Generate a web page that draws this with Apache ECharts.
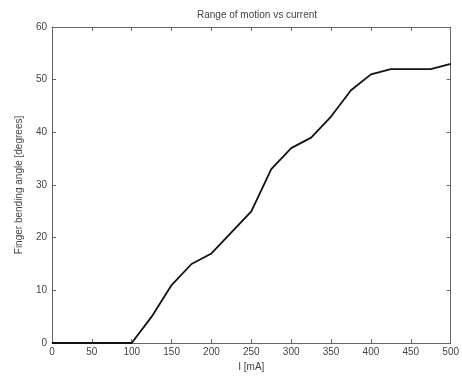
<!DOCTYPE html>
<html>
<head>
<meta charset="utf-8">
<script src="https://cdn.jsdelivr.net/npm/echarts@6/dist/echarts.min.js"></script>
<style>
  html, body { margin: 0; padding: 0; background: #fff; }
  #chart { width: 462px; height: 378px; }
</style>
</head>
<body>
<div id="chart"></div>
<script>
// Current in mA, sampled every 25 mA
const current = [0, 25, 50, 75, 100, 125, 150, 175, 200, 225, 250, 275, 300, 325, 350, 375, 400, 425, 450, 475, 500];
// Finger bending angle in degrees
const angle = [0, 0, 0, 0, 0, 5, 11, 15, 17, 21, 25, 33, 37, 39, 43, 48, 51, 52, 52, 52, 53];

const axisColor = '#666';
const textColor = '#444';
const font = 'Liberation Sans';

const chart = echarts.init(document.getElementById('chart'));

const points = current.map((c, i) => [c, angle[i]]);

// MATLAB style box: ticks on all four sides, pointing in
const boxAxis = {
  axisLine: { show: true, onZero: false, lineStyle: { color: axisColor, width: 1 } },
  axisTick: { show: true, inside: true, length: 4, lineStyle: { color: axisColor } },
  splitLine: { show: false }
};

chart.setOption({
  animation: false,
  title: {
    text: 'Range of motion vs current',
    left: 252,
    top: 5,
    textAlign: 'center',
    textStyle: { fontFamily: font, fontSize: 10, fontWeight: 'normal', color: textColor }
  },
  grid: { left: 52, right: 10, top: 27, bottom: 35 },
  xAxis: [
    Object.assign({
      type: 'value', min: 0, max: 500, interval: 50,
      name: 'I [mA]', nameLocation: 'middle', nameGap: 16,
      nameTextStyle: { fontFamily: font, fontSize: 10, color: textColor },
      axisLabel: { fontFamily: font, fontSize: 10, color: textColor, margin: 4 }
    }, boxAxis),
    Object.assign({
      type: 'value', min: 0, max: 500, interval: 50, position: 'top',
      axisLabel: { show: false }
    }, boxAxis)
  ],
  yAxis: [
    Object.assign({
      type: 'value', min: 0, max: 60, interval: 10,
      name: 'Finger bending angle [degrees]', nameLocation: 'middle', nameGap: 28,
      nameTextStyle: { fontFamily: font, fontSize: 10, color: textColor },
      axisLabel: { fontFamily: font, fontSize: 10, color: textColor, margin: 5 }
    }, boxAxis),
    Object.assign({
      type: 'value', min: 0, max: 60, interval: 10, position: 'right',
      axisLabel: { show: false }
    }, boxAxis)
  ],
  series: [{
    type: 'line',
    data: points,
    showSymbol: false,
    lineStyle: { color: '#111', width: 1.8 }
  }]
});
</script>
</body>
</html>
